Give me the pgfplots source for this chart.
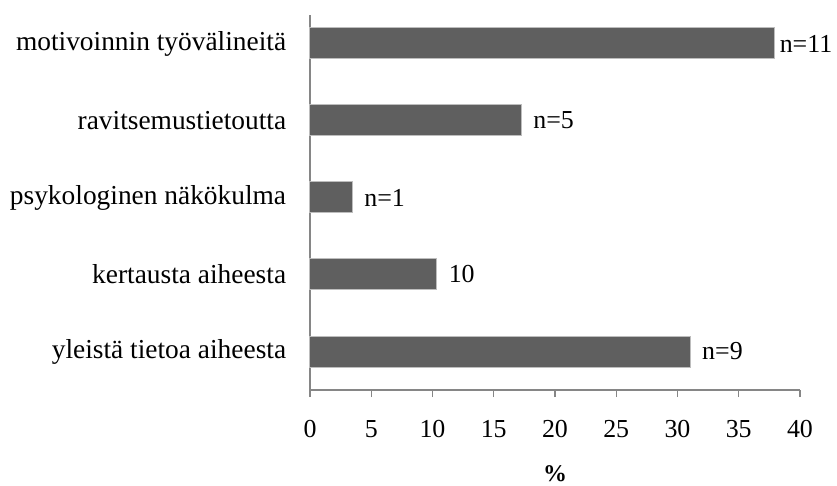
\documentclass[border=0pt]{standalone}
\usepackage{pgfplots}
\pgfplotsset{compat=1.18}
\usepackage{pgfplotstable}
\usepackage{fontspec}
\setmainfont{Liberation Serif}

\definecolor{barfill}{HTML}{5F5F5F}
\definecolor{baredge}{HTML}{BDBDBD}
\definecolor{axisgray}{HTML}{868686}

% share of respondents (%), n = 29
\pgfplotstableread[col sep=comma]{
pos,val,lab,off
4,37.93,n=11,-4
3,17.24,n=5,3
2,3.45,n=1,3
1,10.34,10,3
0,31.03,n=9,3
}\datatable

\begin{document}
\fontsize{26}{30}\selectfont
\begin{tikzpicture}
\begin{axis}[
  scale only axis,
  width=490bp, height=375bp,
  xbar, bar width=31bp, bar shift=0pt,
  xmin=0, xmax=40,
  ymin=-0.5, ymax=4.37,
  axis x line*=bottom, axis y line*=left,
  axis line style={axisgray, line width=1.2bp},
  every tick/.style={axisgray, line width=1.2bp},
  xtick={0,5,...,40},
  tick align=outside,
  major tick length=7bp,
  ytick={0,1,2,3,4},
  yticklabels={yleistä tietoa aiheesta, kertausta aiheesta, psykologinen näkökulma, ravitsemustietoutta, motivoinnin työvälineitä},
  y tick style={draw=none},
  minor ytick={-0.5,0.5,1.5,2.5,3.5},
  minor tick length=10bp,
  minor y tick style={axisgray, line width=1.2bp},
  /pgf/number format/assume math mode=true,
  tick label style={text=black},
  xticklabel style={font=\fontsize{26}{30}\selectfont, anchor=north, text height=18bp, text depth=0bp, yshift=-14bp},
  yticklabel style={font=\fontsize{27.5}{32}\selectfont, xshift=-8bp},
  xlabel={\textbf{\%}},
  xlabel style={font=\fontsize{24}{28}\selectfont, yshift=-10bp},
  clip=false,
  nodes near coords,
  point meta=explicit symbolic,
  visualization depends on={\thisrow{off} \as \offs},
  every node near coord/.append style={font=\fontsize{26}{30}\selectfont, text=black, anchor=west, xshift={\offs*1bp}},
]
\addplot[fill=barfill, draw=baredge, line width=1bp]
  table[x=val, y=pos, meta=lab] {\datatable};
\coordinate (sw) at (rel axis cs:0,0);
\end{axis}
\pgfresetboundingbox
\path (sw) ++(-310bp,-96bp) rectangle ++(837bp,486bp);
\end{tikzpicture}
\end{document}
